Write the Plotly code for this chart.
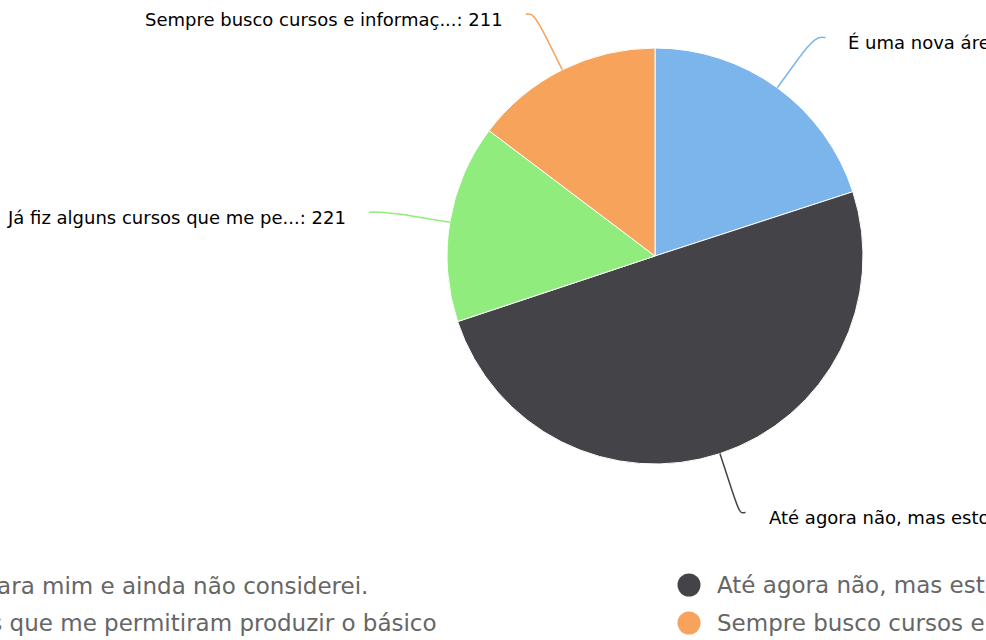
import math
import plotly.graph_objects as go

# ---- data ----
names = [
    "É uma nova área para mim e ainda não considerei.",
    "Até agora não, mas estou pensando em fazer.",
    "Já fiz alguns cursos que me permitiram produzir o básico",
    "Sempre busco cursos e informações para me aperfeiçoar.",
]
values = [287, 716, 221, 211]
colors = ["#7cb5ec", "#434348", "#90ed7d", "#f7a35c"]

# ---- layout constants (pixels) ----
W, H = 986, 640
CX, CY, R = 655, 256, 208
LABEL_RY = 270      # label anchor vertical radius
LABEL_RX = 290      # label anchor horizontal radius
BREAK_R = R + 34    # connector break point radius
TEXT_PAD = 21
LABEL_FONT = 18
LEGEND_FONT = 23
LEG_ROWS_Y = [585, 623]
LEG_COL_X = [-248, 689]   # symbol centres
LEG_SYM_R = 11.5
LEG_TEXT_DX = 26


def X(px):
    return px / W


def Y(py):
    return 1 - py / H


fig = go.Figure()
fig.add_trace(go.Pie(
    labels=names,
    values=values,
    sort=False,
    direction="clockwise",
    rotation=0,
    marker=dict(colors=colors, line=dict(color="#ffffff", width=1)),
    textinfo="none",
    hoverinfo="label+value",
    showlegend=False,
    domain=dict(x=[X(CX - R), X(CX + R)], y=[Y(CY + R), Y(CY - R)]),
))

shapes = []
annotations = []
total = sum(values)
cum = 0
for name, v, col in zip(names, values, colors):
    mid = (cum + v / 2) / total * 2 * math.pi
    cum += v
    s, c = math.sin(mid), math.cos(mid)
    tx, ty = CX + R * s, CY - R * c
    bx, by = CX + BREAK_R * s, CY - BREAK_R * c
    ax, ay = CX + LABEL_RX * s, CY - LABEL_RY * c
    right = s >= 0
    c1x = ax - 5 if right else ax + 5
    c2x, c2y = 2 * bx - tx, 2 * by - ty
    path = (f"M {X(ax)},{Y(ay)} C {X(c1x)},{Y(ay)} {X(c2x)},{Y(c2y)} "
            f"{X(bx)},{Y(by)} L {X(tx)},{Y(ty)}")
    shapes.append(dict(type="path", xref="paper", yref="paper", path=path,
                       line=dict(color=col, width=1.5)))
    label = f"{name[:30]}...: {v}"
    annotations.append(dict(
        x=X(ax + TEXT_PAD if right else ax - TEXT_PAD), y=Y(ay + 5),
        xref="paper", yref="paper", text=label, showarrow=False,
        xanchor="left" if right else "right", yanchor="middle",
        font=dict(family="DejaVu Sans", size=LABEL_FONT, color="#000000"),
    ))

# legend (2 columns, row-wise order)
for i, (name, col) in enumerate(zip(names, colors)):
    row, colidx = divmod(i, 2)
    sx, sy = LEG_COL_X[colidx], LEG_ROWS_Y[row]
    shapes.append(dict(type="circle", xref="paper", yref="paper",
                       x0=X(sx - LEG_SYM_R), x1=X(sx + LEG_SYM_R),
                       y0=Y(sy + LEG_SYM_R), y1=Y(sy - LEG_SYM_R),
                       fillcolor=col, line=dict(width=0)))
    annotations.append(dict(
        x=X(sx + LEG_TEXT_DX), y=Y(sy), xref="paper", yref="paper",
        text=name, showarrow=False, xanchor="left", yanchor="middle",
        font=dict(family="DejaVu Sans", size=LEGEND_FONT, color="#666666"),
    ))

fig.update_layout(
    width=W, height=H,
    margin=dict(l=0, r=0, t=0, b=0),
    paper_bgcolor="#ffffff",
    plot_bgcolor="#ffffff",
    shapes=shapes,
    annotations=annotations,
    showlegend=False,
)

fig.write_html(
    "out.html",
    config={"displayModeBar": False},
    post_script="document.body.style.margin='0';document.body.style.overflow='hidden';",
)
